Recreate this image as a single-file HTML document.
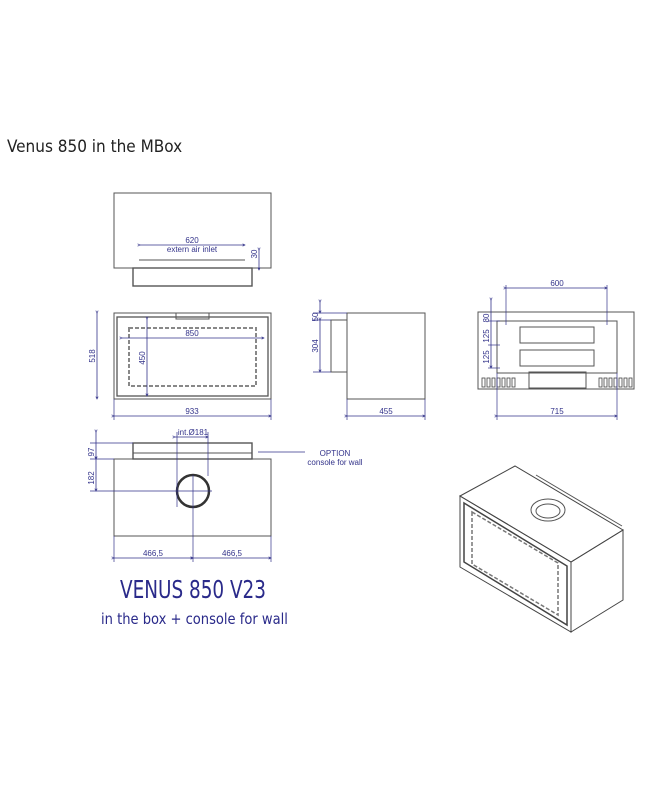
<!DOCTYPE html>
<html><head><meta charset="utf-8"><style>
html,body{margin:0;padding:0;background:#fff;}
svg{display:block;}
</style></head><body>
<svg width="647" height="800" viewBox="0 0 647 800" xmlns="http://www.w3.org/2000/svg">
<defs><marker id="a" markerWidth="6" markerHeight="6" refX="3" refY="3" orient="auto"><path d="M0,1.5 L3,3 L0,4.5" fill="none" stroke="#33338a" stroke-width="0.8"/></marker></defs>
<text x="7" y="152" font-family="DejaVu Sans Condensed, Liberation Sans, sans-serif" font-size="17" fill="#222">Venus 850 in the MBox</text>
<g fill="none" stroke="#555" stroke-width="1">
<rect x="114" y="193" width="157" height="75"/>
<rect x="133" y="268" width="119" height="18" stroke-width="1.4"/>
<line x1="139" y1="260" x2="245" y2="260"/><line x1="139" y1="268" x2="245" y2="268"/>
<rect x="114" y="313" width="157" height="86"/>
<rect x="117" y="317" width="151" height="79" stroke-width="1.3"/>
<rect x="176" y="313" width="33" height="6"/>
<rect x="129" y="328" width="127" height="58" stroke="#888" stroke-width="2" stroke-dasharray="4,2"/>
<rect x="347" y="313" width="78" height="86"/>
<rect x="331" y="320" width="16" height="52"/>
<rect x="478" y="312" width="156" height="77"/>
<rect x="497" y="321" width="120" height="52"/>
<rect x="520" y="327" width="74" height="16"/>
<rect x="520" y="350" width="74" height="16"/>
<rect x="529" y="372" width="57" height="16"/>
<rect x="114" y="459" width="157" height="77"/>
<rect x="133" y="443" width="119" height="16" stroke-width="1.4"/>
<line x1="133" y1="453" x2="252" y2="453"/>
<circle cx="193" cy="491" r="16" stroke="#333" stroke-width="2.5"/>
<polygon points="460,496 571,562 571,632 460,567" stroke="#444"/>
<polygon points="460,496 515,466 623,530 571,562" stroke="#444"/>
<polygon points="571,562 623,530 623,600 571,632" stroke="#444"/>
<polygon points="464,503 567,566 567,625 464,562" stroke="#444" stroke-width="1.5"/>
<polygon points="472,512 558,563 558,615 472,564" stroke="#777" stroke-width="1.5" stroke-dasharray="4,2"/>
<ellipse cx="548" cy="510" rx="17" ry="11"/>
<ellipse cx="548" cy="511" rx="12" ry="7"/>
<line x1="536" y1="475" x2="622" y2="526"/>
</g>
<g fill="none" stroke="#444" stroke-width="0.8">
<rect x="482" y="378" width="3" height="9"/><rect x="487" y="378" width="3" height="9"/><rect x="492" y="378" width="3" height="9"/><rect x="497" y="378" width="3" height="9"/><rect x="502" y="378" width="3" height="9"/><rect x="507" y="378" width="3" height="9"/><rect x="512" y="378" width="3" height="9"/>
<rect x="599" y="378" width="3" height="9"/><rect x="604" y="378" width="3" height="9"/><rect x="609" y="378" width="3" height="9"/><rect x="614" y="378" width="3" height="9"/><rect x="619" y="378" width="3" height="9"/><rect x="624" y="378" width="3" height="9"/><rect x="629" y="378" width="3" height="9"/>
</g>
<g stroke="#33338a" stroke-width="0.8" fill="none" marker-start="url(#a)" marker-end="url(#a)">
<line x1="140" y1="245" x2="245" y2="245"/>
<line x1="259" y1="250" x2="259" y2="270"/>
<line x1="122" y1="338" x2="264" y2="338"/>
<line x1="147" y1="319" x2="147" y2="396"/>
<line x1="97" y1="313" x2="97" y2="399"/>
<line x1="114" y1="416" x2="271" y2="416"/>
<line x1="320" y1="302" x2="320" y2="313"/>
<line x1="320" y1="320" x2="320" y2="372"/>
<line x1="347" y1="416" x2="425" y2="416"/>
<line x1="506" y1="288" x2="607" y2="288"/>
<line x1="497" y1="416" x2="617" y2="416"/>
<line x1="491" y1="300" x2="491" y2="368"/>
<line x1="96" y1="432" x2="96" y2="459"/>
<line x1="96" y1="459" x2="96" y2="491"/>
<line x1="114" y1="558" x2="193" y2="558"/>
<line x1="193" y1="558" x2="271" y2="558"/>
<line x1="175" y1="437" x2="208" y2="437"/>
</g>
<g stroke="#33338a" stroke-width="0.7">
<line x1="114" y1="399" x2="114" y2="420"/><line x1="271" y1="399" x2="271" y2="420"/>
<line x1="347" y1="399" x2="347" y2="420"/><line x1="425" y1="399" x2="425" y2="420"/>
<line x1="497" y1="373" x2="497" y2="420"/><line x1="617" y1="373" x2="617" y2="420"/>
<line x1="506" y1="285" x2="506" y2="325"/><line x1="607" y1="285" x2="607" y2="325"/>
<line x1="90" y1="459" x2="114" y2="459"/><line x1="90" y1="491" x2="212" y2="491"/><line x1="90" y1="443" x2="133" y2="443"/>
<line x1="193" y1="475" x2="193" y2="562"/>
<line x1="177" y1="432" x2="177" y2="507"/><line x1="208" y1="432" x2="208" y2="476"/>
<line x1="114" y1="536" x2="114" y2="562"/><line x1="271" y1="536" x2="271" y2="562"/>
<line x1="258" y1="452" x2="305" y2="452"/>
<line x1="313" y1="313" x2="347" y2="313"/><line x1="313" y1="320" x2="331" y2="320"/><line x1="313" y1="372" x2="331" y2="372"/>
<line x1="488" y1="321" x2="500" y2="321"/><line x1="488" y1="345" x2="500" y2="345"/><line x1="488" y1="368" x2="500" y2="368"/>
</g>
<g font-family="Liberation Sans, sans-serif" font-size="8" fill="#33338a" text-anchor="middle">
<text x="192" y="243">620</text><text x="192" y="252">extern air inlet</text>
<text transform="translate(257 254) rotate(-90)">30</text>
<text x="192" y="336">850</text>
<text transform="translate(145 358) rotate(-90)">450</text>
<text transform="translate(95 356) rotate(-90)">518</text>
<text x="192" y="414">933</text>
<text transform="translate(318 317) rotate(-90)">50</text>
<text transform="translate(318 346) rotate(-90)">304</text>
<text x="386" y="414">455</text>
<text x="557" y="286">600</text>
<text x="557" y="414">715</text>
<text transform="translate(489 318) rotate(-90)">80</text>
<text transform="translate(489 336) rotate(-90)">125</text>
<text transform="translate(489 357) rotate(-90)">125</text>
<text transform="translate(94 452) rotate(-90)">97</text>
<text transform="translate(94 478) rotate(-90)">182</text>
<text x="153" y="556">466,5</text><text x="232" y="556">466,5</text>
<text x="193" y="435">int.Ø181</text>
<text x="335" y="456">OPTION</text><text x="335" y="465">console for wall</text>
</g>
<text transform="translate(120 598) scale(0.89 1.1)" font-family="DejaVu Sans Condensed, sans-serif" font-size="23" fill="#2a2a8a">VENUS 850 V23</text>
<text transform="translate(101 624) scale(1.04 1.1)" font-family="DejaVu Sans Condensed, sans-serif" font-size="14" fill="#2a2a8a">in the box + console for wall</text>
</svg>
</body></html>
